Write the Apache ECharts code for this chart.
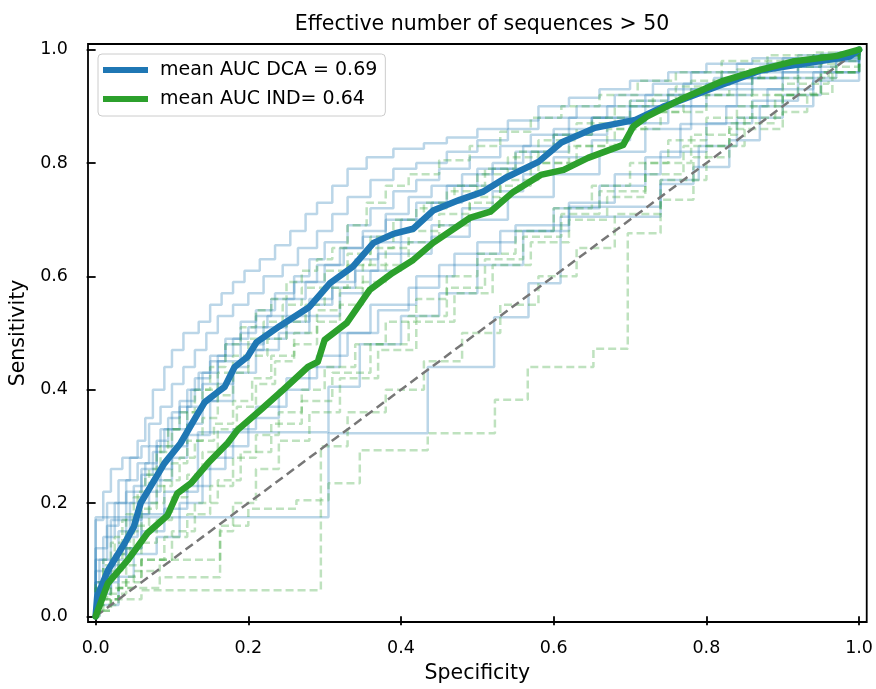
<!DOCTYPE html>
<html>
<head>
<meta charset="utf-8">
<script src="https://cdn.jsdelivr.net/npm/echarts@6/dist/echarts.min.js"></script>
<style>html,body{margin:0;padding:0;background:#fff;}#chart{width:876px;height:689px;}</style>
</head>
<body>
<div id="chart"></div>
<script>
// ---- Data ----
const xTicks = [0, 0.2, 0.4, 0.6, 0.8, 1.0];
const yTicks = [0, 0.2, 0.4, 0.6, 0.8, 1.0];
const titleText = 'Effective number of sequences > 50';
const xName = 'Specificity';
const yName = 'Sensitivity';
const nameDCA = 'mean AUC DCA = 0.69';
const nameIND = 'mean AUC IND= 0.64';

const meanDCA = [[0,0],[0.002,0.034],[0.016,0.081],[0.038,0.129],[0.05,0.158],[0.059,0.2],[0.09,0.27],[0.111,0.305],[0.134,0.358],[0.143,0.378],[0.16,0.396],[0.169,0.405],[0.182,0.44],[0.199,0.458],[0.211,0.484],[0.241,0.512],[0.28,0.546],[0.307,0.588],[0.337,0.617],[0.364,0.659],[0.39,0.675],[0.416,0.684],[0.442,0.716],[0.477,0.735],[0.507,0.749],[0.537,0.774],[0.58,0.802],[0.61,0.836],[0.654,0.862],[0.707,0.876],[0.743,0.899],[0.769,0.912],[0.814,0.935],[0.87,0.963],[0.945,0.979],[0.988,0.988],[1,1]];
const meanIND = [[0,0],[0.016,0.058],[0.042,0.099],[0.068,0.147],[0.094,0.178],[0.107,0.217],[0.125,0.235],[0.147,0.27],[0.173,0.306],[0.186,0.329],[0.216,0.364],[0.245,0.399],[0.278,0.44],[0.291,0.449],[0.3,0.488],[0.329,0.518],[0.359,0.576],[0.389,0.606],[0.416,0.629],[0.442,0.659],[0.477,0.691],[0.49,0.703],[0.517,0.714],[0.547,0.749],[0.583,0.779],[0.613,0.788],[0.645,0.809],[0.691,0.832],[0.704,0.864],[0.722,0.882],[0.766,0.912],[0.822,0.945],[0.866,0.963],[0.913,0.979],[0.971,0.989],[1,1]];
const diagonal = [[0,0],[1,1]];

// individual DCA ROC curves (step corners: at x, rise to y)
const dca1 = [[0,0],[0,0.17],[0.01,0.22],[0.02,0.26],[0.035,0.28],[0.055,0.31],[0.065,0.35],[0.075,0.4],[0.09,0.44],[0.1,0.47],[0.115,0.5],[0.135,0.52],[0.15,0.55],[0.165,0.57],[0.18,0.59],[0.195,0.61],[0.215,0.63],[0.235,0.655],[0.255,0.68],[0.275,0.71],[0.29,0.73],[0.31,0.76],[0.33,0.79],[0.355,0.81],[0.39,0.825],[0.43,0.835],[0.46,0.845],[0.5,0.86],[0.54,0.875],[0.58,0.9],[0.62,0.915],[0.66,0.93],[0.7,0.945],[0.75,0.96],[0.8,0.975],[0.86,0.985],[0.92,0.99],[0.97,0.995],[1,1]];
const dca2 = [[0,0],[0,0.12],[0.015,0.2],[0.03,0.24],[0.045,0.28],[0.06,0.3],[0.07,0.34],[0.085,0.37],[0.1,0.41],[0.115,0.44],[0.13,0.47],[0.145,0.5],[0.16,0.53],[0.18,0.55],[0.2,0.57],[0.22,0.6],[0.245,0.62],[0.265,0.65],[0.29,0.68],[0.31,0.71],[0.33,0.74],[0.36,0.77],[0.39,0.79],[0.42,0.8],[0.46,0.82],[0.5,0.84],[0.54,0.86],[0.58,0.88],[0.63,0.9],[0.68,0.92],[0.73,0.94],[0.78,0.96],[0.84,0.975],[0.9,0.985],[0.95,0.993],[1,1]];
const dca3 = [[0,0],[0,0.08],[0.01,0.14],[0.025,0.2],[0.04,0.24],[0.055,0.27],[0.07,0.3],[0.085,0.33],[0.1,0.36],[0.12,0.4],[0.135,0.43],[0.15,0.46],[0.17,0.49],[0.19,0.52],[0.21,0.54],[0.235,0.57],[0.26,0.6],[0.28,0.63],[0.3,0.66],[0.33,0.69],[0.36,0.72],[0.39,0.75],[0.42,0.77],[0.45,0.79],[0.49,0.81],[0.53,0.83],[0.57,0.85],[0.62,0.88],[0.67,0.9],[0.72,0.92],[0.77,0.94],[0.82,0.96],[0.88,0.975],[0.94,0.99],[1,1]];
const dca4 = [[0,0],[0,0.06],[0.02,0.1],[0.03,0.15],[0.045,0.2],[0.06,0.25],[0.075,0.29],[0.09,0.33],[0.11,0.37],[0.125,0.4],[0.14,0.43],[0.16,0.46],[0.18,0.49],[0.2,0.51],[0.225,0.53],[0.25,0.56],[0.275,0.59],[0.3,0.62],[0.325,0.65],[0.35,0.68],[0.38,0.71],[0.41,0.74],[0.44,0.76],[0.48,0.78],[0.52,0.8],[0.56,0.83],[0.6,0.86],[0.65,0.88],[0.7,0.9],[0.75,0.92],[0.8,0.94],[0.86,0.96],[0.92,0.98],[0.97,0.99],[1,1]];
const dca5 = [[0,0],[0,0.1],[0.02,0.17],[0.04,0.22],[0.06,0.26],[0.08,0.3],[0.1,0.33],[0.12,0.37],[0.14,0.41],[0.16,0.45],[0.19,0.48],[0.22,0.51],[0.25,0.53],[0.28,0.56],[0.31,0.59],[0.34,0.63],[0.37,0.66],[0.4,0.7],[0.44,0.73],[0.48,0.76],[0.52,0.79],[0.57,0.82],[0.62,0.85],[0.67,0.87],[0.72,0.9],[0.78,0.93],[0.84,0.95],[0.9,0.97],[0.95,0.985],[1,1]];
const dca6 = [[0,0],[0,0.05],[0.02,0.1],[0.04,0.17],[0.06,0.2],[0.08,0.24],[0.1,0.28],[0.12,0.32],[0.15,0.38],[0.18,0.43],[0.21,0.47],[0.24,0.5],[0.28,0.53],[0.32,0.57],[0.36,0.61],[0.4,0.64],[0.44,0.67],[0.49,0.7],[0.54,0.74],[0.6,0.78],[0.66,0.82],[0.72,0.86],[0.78,0.9],[0.84,0.93],[0.9,0.96],[0.95,0.98],[1,1]];
const dca7 = [[0,0],[0,0.06],[0.03,0.12],[0.06,0.18],[0.09,0.22],[0.134,0.325],[0.305,0.405],[0.346,0.48],[0.4,0.53],[0.45,0.57],[0.5,0.62],[0.56,0.68],[0.62,0.73],[0.68,0.78],[0.74,0.82],[0.8,0.87],[0.86,0.91],[0.92,0.95],[0.97,0.98],[1,1]];
const dca8 = [[0,0],[0,0.175],[0.305,0.323],[0.435,0.44],[0.522,0.528],[0.567,0.588],[0.609,0.705],[0.74,0.763],[0.783,0.793],[0.83,0.84],[0.87,0.9],[0.94,0.945],[1,1]];
const dca9 = [[0,0],[0,0.04],[0.02,0.09],[0.04,0.12],[0.06,0.15],[0.09,0.19],[0.12,0.23],[0.15,0.28],[0.18,0.33],[0.21,0.37],[0.25,0.42],[0.29,0.46],[0.33,0.5],[0.37,0.54],[0.41,0.58],[0.45,0.62],[0.5,0.66],[0.55,0.69],[0.62,0.723],[0.74,0.77],[0.79,0.83],[0.84,0.88],[0.9,0.92],[0.95,0.96],[1,1]];
const dca10 = [[0,0],[0,0.03],[0.01,0.07],[0.025,0.11],[0.04,0.14],[0.055,0.18],[0.07,0.22],[0.085,0.26],[0.1,0.3],[0.12,0.34],[0.14,0.38],[0.16,0.41],[0.18,0.44],[0.2,0.47],[0.22,0.49],[0.25,0.52],[0.28,0.55],[0.31,0.58],[0.34,0.61],[0.37,0.64],[0.4,0.66],[0.44,0.69],[0.48,0.72],[0.52,0.75],[0.56,0.78],[0.6,0.81],[0.65,0.84],[0.7,0.87],[0.75,0.9],[0.8,0.92],[0.86,0.95],[0.92,0.97],[0.97,0.99],[1,1]];
const dca11 = [[0,0],[0,0.02],[0.03,0.07],[0.05,0.11],[0.08,0.14],[0.11,0.2],[0.14,0.26],[0.17,0.3],[0.2,0.35],[0.24,0.4],[0.28,0.44],[0.32,0.5],[0.36,0.55],[0.42,0.6],[0.47,0.64],[0.53,0.68],[0.6,0.72],[0.66,0.76],[0.72,0.81],[0.766,0.869],[0.826,0.9],[0.88,0.93],[0.94,0.96],[1,1]];
const dca12 = [[0,0],[0.005,0.1],[0.015,0.16],[0.03,0.2],[0.05,0.23],[0.065,0.27],[0.08,0.31],[0.095,0.35],[0.11,0.38],[0.13,0.42],[0.15,0.45],[0.17,0.48],[0.19,0.5],[0.21,0.53],[0.23,0.56],[0.26,0.59],[0.29,0.62],[0.32,0.65],[0.35,0.67],[0.38,0.7],[0.42,0.73],[0.46,0.76],[0.5,0.79],[0.55,0.82],[0.6,0.85],[0.65,0.88],[0.7,0.91],[0.75,0.93],[0.81,0.95],[0.87,0.97],[0.93,0.985],[1,1]];

// individual IND ROC curves
const ind1 = [[0,0],[0,0.01],[0.02,0.03],[0.06,0.046],[0.295,0.205],[0.305,0.235],[0.346,0.293],[0.435,0.323],[0.523,0.382],[0.566,0.44],[0.652,0.472],[0.697,0.676],[0.74,0.735],[0.783,0.81],[0.83,0.86],[0.9,0.89],[0.932,0.922],[0.965,0.96],[1,1]];
const ind2 = [[0,0],[0,0.02],[0.03,0.05],[0.05,0.08],[0.084,0.1],[0.163,0.16],[0.2,0.19],[0.263,0.205],[0.295,0.3],[0.33,0.36],[0.38,0.4],[0.43,0.45],[0.48,0.5],[0.53,0.55],[0.58,0.6],[0.63,0.65],[0.68,0.71],[0.74,0.77],[0.8,0.83],[0.85,0.88],[0.9,0.92],[0.95,0.96],[1,1]];
const ind3 = [[0,0],[0,0.05],[0.01,0.09],[0.02,0.13],[0.035,0.17],[0.05,0.21],[0.065,0.25],[0.08,0.29],[0.095,0.33],[0.11,0.36],[0.13,0.4],[0.15,0.44],[0.17,0.48],[0.19,0.51],[0.21,0.54],[0.23,0.56],[0.25,0.59],[0.27,0.61],[0.29,0.63],[0.31,0.65],[0.33,0.69],[0.355,0.73],[0.38,0.76],[0.41,0.78],[0.45,0.805],[0.49,0.83],[0.53,0.855],[0.57,0.88],[0.61,0.9],[0.66,0.92],[0.71,0.945],[0.76,0.96],[0.82,0.98],[0.88,0.99],[0.94,0.995],[1,1]];
const ind4 = [[0,0],[0,0.03],[0.015,0.07],[0.03,0.11],[0.045,0.15],[0.06,0.19],[0.08,0.23],[0.1,0.27],[0.12,0.31],[0.14,0.35],[0.16,0.39],[0.18,0.43],[0.2,0.46],[0.225,0.49],[0.25,0.52],[0.275,0.55],[0.3,0.58],[0.33,0.62],[0.36,0.65],[0.39,0.68],[0.42,0.72],[0.46,0.75],[0.5,0.78],[0.54,0.81],[0.58,0.84],[0.63,0.87],[0.68,0.9],[0.73,0.92],[0.78,0.945],[0.84,0.965],[0.9,0.98],[0.95,0.99],[1,1]];
const ind5 = [[0,0],[0,0.02],[0.02,0.05],[0.04,0.09],[0.06,0.13],[0.08,0.17],[0.1,0.21],[0.12,0.25],[0.14,0.29],[0.16,0.33],[0.185,0.37],[0.21,0.41],[0.235,0.45],[0.26,0.48],[0.29,0.52],[0.32,0.55],[0.35,0.59],[0.38,0.62],[0.41,0.66],[0.45,0.69],[0.49,0.73],[0.53,0.76],[0.57,0.8],[0.62,0.83],[0.67,0.86],[0.72,0.89],[0.77,0.92],[0.83,0.95],[0.89,0.97],[0.95,0.99],[1,1]];
const ind6 = [[0,0],[0.005,0.04],[0.02,0.08],[0.035,0.12],[0.05,0.16],[0.07,0.2],[0.09,0.24],[0.11,0.28],[0.13,0.31],[0.155,0.34],[0.18,0.38],[0.205,0.42],[0.23,0.46],[0.26,0.5],[0.29,0.54],[0.32,0.58],[0.35,0.62],[0.38,0.65],[0.41,0.68],[0.45,0.71],[0.49,0.74],[0.53,0.77],[0.58,0.8],[0.63,0.83],[0.68,0.86],[0.74,0.89],[0.8,0.92],[0.86,0.95],[0.92,0.975],[0.97,0.99],[1,1]];
const ind7 = [[0,0],[0,0.01],[0.02,0.04],[0.04,0.07],[0.06,0.1],[0.09,0.14],[0.12,0.18],[0.15,0.23],[0.18,0.28],[0.21,0.32],[0.24,0.36],[0.27,0.4],[0.3,0.44],[0.34,0.48],[0.38,0.52],[0.42,0.56],[0.46,0.6],[0.5,0.64],[0.55,0.68],[0.6,0.72],[0.65,0.76],[0.7,0.8],[0.75,0.84],[0.8,0.88],[0.86,0.92],[0.92,0.95],[0.97,0.98],[1,1]];
const ind8 = [[0,0],[0,0.03],[0.03,0.06],[0.06,0.1],[0.1,0.15],[0.13,0.2],[0.16,0.24],[0.19,0.29],[0.23,0.34],[0.27,0.38],[0.31,0.43],[0.36,0.48],[0.41,0.53],[0.46,0.58],[0.51,0.63],[0.56,0.67],[0.61,0.71],[0.66,0.75],[0.72,0.8],[0.78,0.85],[0.84,0.9],[0.9,0.94],[0.96,0.97],[1,1]];
const ind9 = [[0,0],[0,0.01],[0.01,0.03],[0.03,0.05],[0.084,0.069],[0.163,0.15],[0.18,0.2],[0.21,0.26],[0.24,0.31],[0.28,0.36],[0.32,0.42],[0.37,0.47],[0.42,0.52],[0.47,0.57],[0.52,0.62],[0.57,0.66],[0.62,0.7],[0.67,0.74],[0.72,0.78],[0.77,0.83],[0.83,0.87],[0.89,0.92],[0.95,0.96],[1,1]];
const ind10 = [[0,0],[0,0.06],[0.01,0.1],[0.025,0.14],[0.04,0.18],[0.055,0.22],[0.07,0.26],[0.085,0.3],[0.1,0.33],[0.12,0.36],[0.14,0.4],[0.16,0.43],[0.18,0.46],[0.2,0.49],[0.22,0.52],[0.245,0.55],[0.27,0.58],[0.3,0.61],[0.33,0.64],[0.36,0.67],[0.39,0.7],[0.43,0.73],[0.47,0.76],[0.51,0.79],[0.55,0.82],[0.6,0.85],[0.65,0.88],[0.7,0.91],[0.76,0.935],[0.82,0.96],[0.88,0.98],[0.94,0.99],[1,1]];

const dcaFolds = [dca1, dca2, dca3, dca4, dca5, dca6, dca7, dca8, dca9, dca10, dca11, dca12];
const indFolds = [ind1, ind2, ind3, ind4, ind5, ind6, ind7, ind8, ind9, ind10];

// ---- Chart ----
const BLUE = '#1f77b4', GREEN = '#2ca02c';
const FONT = 'DejaVu Sans';
const series = [];
dcaFolds.forEach((d) => series.push({
  type: 'line', data: d, step: 'end', symbol: 'none', silent: true, animation: false,
  lineStyle: { color: BLUE, width: 2.5, opacity: 0.3 }, itemStyle: { color: BLUE }, z: 2
}));
indFolds.forEach((d) => series.push({
  type: 'line', data: d, step: 'end', symbol: 'none', silent: true, animation: false,
  lineStyle: { color: GREEN, width: 2.5, opacity: 0.3, type: [8, 4] }, itemStyle: { color: GREEN }, z: 2
}));
series.push({
  type: 'line', data: diagonal, symbol: 'none', silent: true, animation: false,
  lineStyle: { color: '#777777', width: 2.5, type: [9, 5] }, itemStyle: { color: '#777777' }, z: 3
});
series.push({
  name: nameDCA, type: 'line', data: meanDCA, symbol: 'none', animation: false,
  lineStyle: { color: BLUE, width: 6.5, join: 'round', cap: 'round' }, itemStyle: { color: BLUE }, z: 4
});
series.push({
  name: nameIND, type: 'line', data: meanIND, symbol: 'none', animation: false,
  lineStyle: { color: GREEN, width: 6.5, join: 'round', cap: 'round' }, itemStyle: { color: GREEN }, z: 5
});

const chart = echarts.init(document.getElementById('chart'), null, { renderer: 'canvas' });
chart.setOption({
  animation: false,
  backgroundColor: '#ffffff',
  textStyle: { fontFamily: FONT },
  title: {
    text: titleText, left: 477, top: 9, textAlign: 'center',
    textStyle: { fontFamily: FONT, fontSize: 20.5, fontWeight: 'normal', color: '#000' }
  },
  legend: {
    data: [{ name: nameDCA, icon: 'rect' }, { name: nameIND, icon: 'rect' }],
    orient: 'vertical', left: 98, top: 54,
    itemWidth: 45, itemHeight: 6, itemGap: 9,
    padding: [6, 8, 7, 5],
    backgroundColor: 'rgba(255,255,255,0.8)', borderColor: '#cccccc', borderWidth: 1, borderRadius: 4,
    selectedMode: false,
    textStyle: { fontFamily: FONT, fontSize: 19, color: '#000', lineHeight: 20, padding: [0, 0, 0, 7] }
  },
  grid: { left: 88, right: 9, top: 44, bottom: 67, show: true, borderColor: '#000', borderWidth: 1.8, backgroundColor: 'transparent' },
  xAxis: {
    type: 'value', min: -0.01, max: 1.01,
    name: xName, nameLocation: 'middle', nameGap: 41,
    nameTextStyle: { fontFamily: FONT, fontSize: 20.5, color: '#000' },
    axisLine: { show: false },
    splitLine: { show: false },
    axisTick: { show: true, length: 9, lineStyle: { color: '#000', width: 1.8 }, customValues: xTicks },
    axisLabel: { customValues: xTicks, margin: 17, fontFamily: FONT, fontSize: 17.5, color: '#000', formatter: (v) => v.toFixed(1) }
  },
  yAxis: {
    type: 'value', min: -0.01, max: 1.01,
    name: yName, nameLocation: 'middle', nameGap: 56,
    nameTextStyle: { fontFamily: FONT, fontSize: 20.5, color: '#000' },
    axisLine: { show: false },
    splitLine: { show: false },
    axisTick: { show: true, length: 9, lineStyle: { color: '#000', width: 1.8 }, customValues: yTicks },
    axisLabel: { customValues: yTicks, margin: 20, fontFamily: FONT, fontSize: 17.5, color: '#000', formatter: (v) => v.toFixed(1) }
  },
  series: series
});
</script>
</body>
</html>
